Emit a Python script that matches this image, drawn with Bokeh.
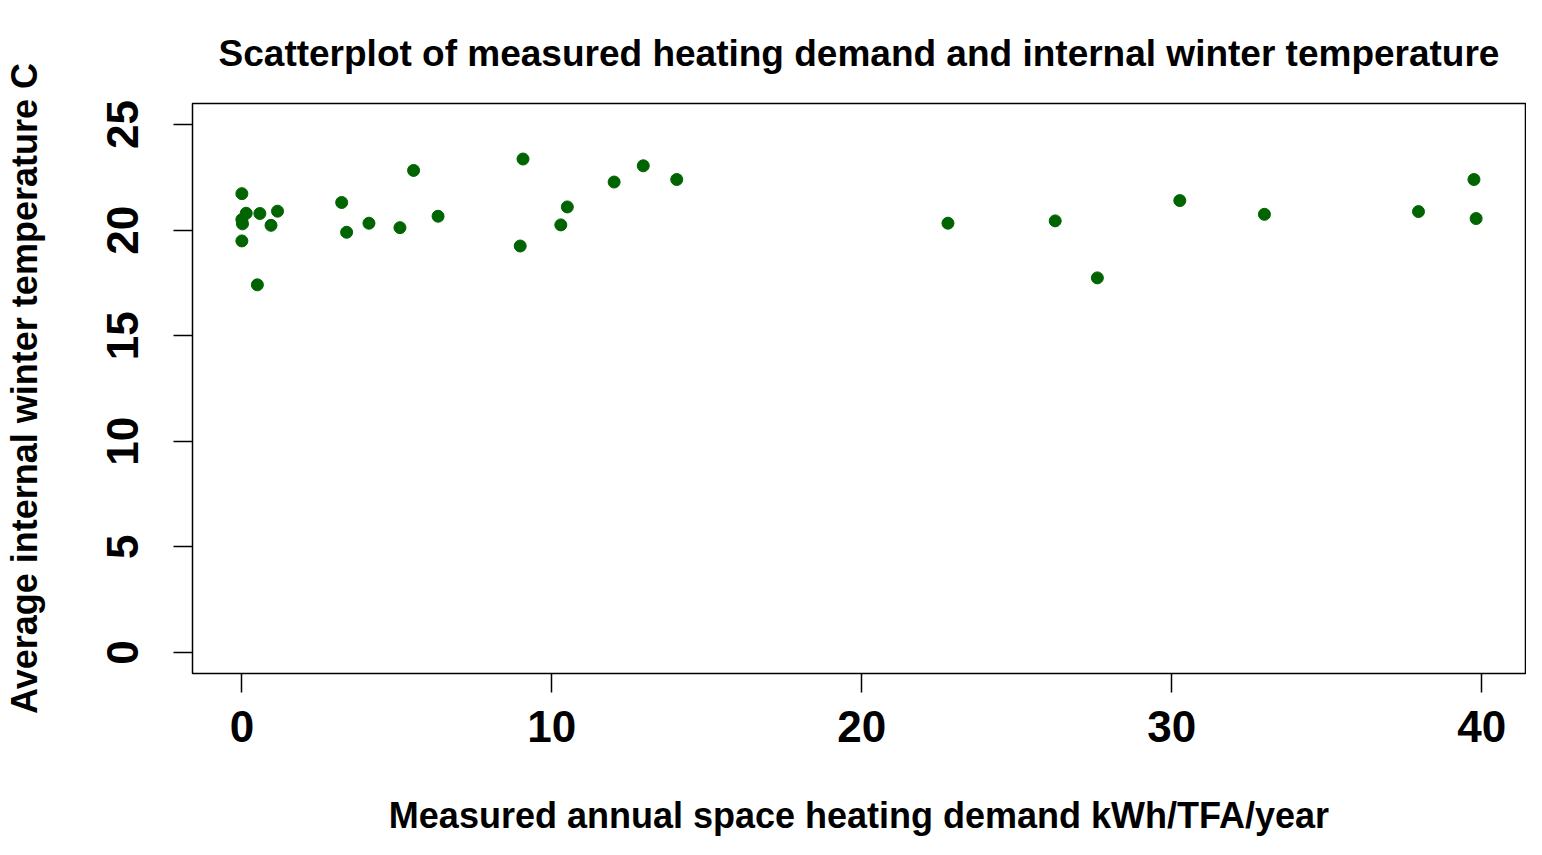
from bokeh.plotting import figure
from bokeh.models import Range1d, FixedTicker
from bokeh.embed import file_html
from bokeh.resources import INLINE

heating_demand = [0.0, 0.14, 0.0, 0.02, 0.58, 1.15, 0.94, 0.0, 0.5,
                  3.22, 3.38, 4.1, 5.1, 5.54, 6.33,
                  9.07, 8.98, 10.29, 10.5, 12.01, 12.95, 14.03,
                  22.78, 26.24, 27.6, 30.26, 32.99, 37.96, 39.75, 39.82]
winter_temp = [21.73, 20.8, 20.5, 20.3, 20.79, 20.9, 20.23, 19.49, 17.41,
               21.31, 19.9, 20.33, 20.12, 22.83, 20.66,
               23.37, 19.25, 20.25, 21.1, 22.28, 23.05, 22.4,
               20.33, 20.44, 17.74, 21.4, 20.75, 20.88, 22.4, 20.55]
x_ticks = [0, 10, 20, 30, 40]
y_ticks = [0, 5, 10, 15, 20, 25]

FONT = "Liberation Sans"

xmin, xmax = min(heating_demand), max(heating_demand)
xpad = 0.04 * (xmax - xmin)
ylim = (0, 25)
ypad = 0.04 * (ylim[1] - ylim[0])

p = figure(width=1526, height=839, output_backend="svg", toolbar_location=None,
           x_range=Range1d(xmin - xpad, xmax + xpad),
           y_range=Range1d(ylim[0] - ypad, ylim[1] + ypad),
           min_border_left=172, min_border_right=1, min_border_top=102, min_border_bottom=166)

p.title.text = "Scatterplot of measured heating demand and internal winter temperature"
p.title.align = "center"
p.title.text_font = FONT
p.title.text_font_size = "37px"
p.title.text_font_style = "bold"
p.title.text_color = "#000000"
p.title.standoff = 60

p.grid.visible = False
p.outline_line_color = "#000000"
p.outline_line_width = 1.5
p.background_fill_color = "white"
p.border_fill_color = "white"

for ax in (p.xaxis[0], p.yaxis[0]):
    ax.axis_line_color = None
    ax.major_tick_out = 19
    ax.major_tick_in = 0
    ax.major_tick_line_color = "#000000"
    ax.major_tick_line_width = 1.5
    ax.minor_tick_line_color = None
    ax.major_label_text_font = FONT
    ax.major_label_text_font_size = "44px"
    ax.major_label_text_font_style = "bold"
    ax.major_label_text_color = "#000000"
    ax.axis_label_text_font = FONT
    ax.axis_label_text_font_style = "bold"
    ax.axis_label_text_color = "#000000"
    ax.axis_label_text_font_size = "36px"

p.xaxis.ticker = FixedTicker(ticks=x_ticks)
p.yaxis.ticker = FixedTicker(ticks=y_ticks)
p.yaxis.major_label_orientation = "vertical"

p.xaxis.axis_label = "Measured annual space heating demand kWh/TFA/year"
p.xaxis.major_label_standoff = 18
p.xaxis.axis_label_standoff = 50

p.yaxis.axis_label = "Average internal winter temperature C"
p.yaxis.major_label_standoff = 35
p.yaxis.axis_label_standoff = 60

p.scatter(heating_demand, winter_temp, size=12, color="#006400", marker="circle")

open("out.html", "w").write(file_html(p, INLINE))
